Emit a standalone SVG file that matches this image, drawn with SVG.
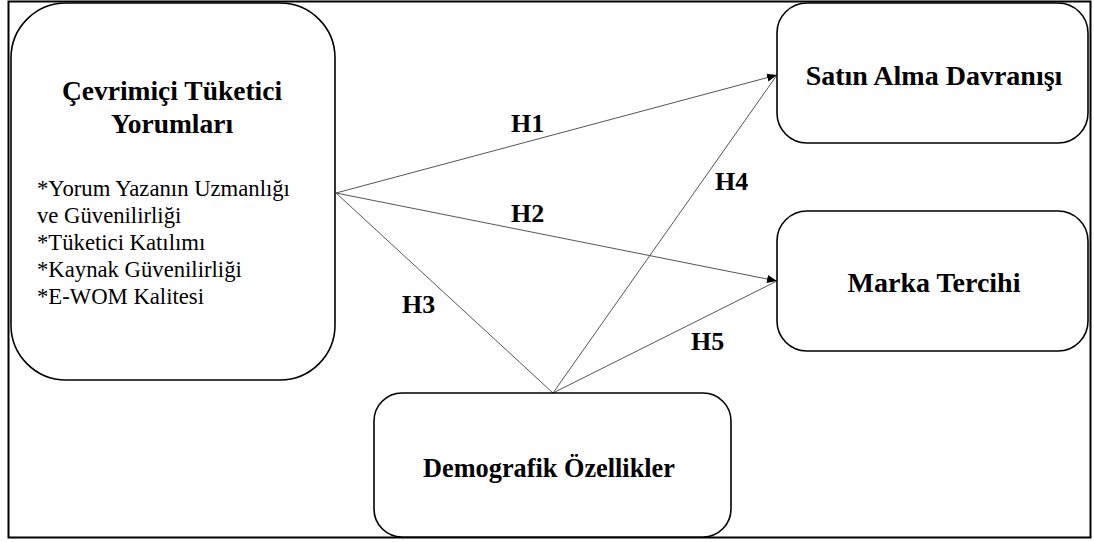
<svg xmlns="http://www.w3.org/2000/svg" width="1094" height="542" viewBox="0 0 1094 542" font-family="Liberation Serif, DejaVu Serif, serif">
<defs>
<style>
.box{fill:#fff;stroke:#000;stroke-width:1.6}
.title{font-weight:bold;fill:#000;text-anchor:middle}
.body{fill:#000;font-size:22.7px}
.lbl{font-weight:bold;fill:#000;font-size:26px}
.conn{stroke:#555;stroke-width:1;fill:none}
</style>
<marker id="arr" viewBox="0 0 10 10" refX="10" refY="5" markerWidth="10" markerHeight="10" markerUnits="userSpaceOnUse" orient="auto">
<path d="M0,1 L10,5 L0,9 z" fill="#000"/>
</marker>
</defs>
<rect x="0" y="0" width="1094" height="542" fill="#fff"/>
<rect x="8.5" y="1.5" width="1082" height="536" fill="none" stroke="#000" stroke-width="2"/>
<g id="connectors">
<line class="conn" x1="336" y1="193" x2="777" y2="75" marker-end="url(#arr)"/>
<line class="conn" x1="336" y1="193" x2="777" y2="281" marker-end="url(#arr)"/>
<line class="conn" x1="336" y1="193" x2="553" y2="393"/>
<line class="conn" x1="553" y1="393" x2="777" y2="75"/>
<line class="conn" x1="553" y1="393" x2="777" y2="281"/>
<text class="lbl" x="511" y="132" font-family="Liberation Serif">H1</text>
<text class="lbl" x="511" y="222" font-family="Liberation Serif">H2</text>
<text class="lbl" x="402" y="313" font-family="Liberation Serif">H3</text>
<text class="lbl" x="715" y="190" font-family="Liberation Serif">H4</text>
<text class="lbl" x="691" y="350" font-family="Liberation Serif">H5</text>
</g>
<g id="node-ctr">
<rect class="box" x="11" y="3" width="324" height="377" rx="55" ry="55"/>
<text class="title" x="172" y="100" font-size="27.5" font-family="Liberation Serif">Çevrimiçi Tüketici</text>
<text class="title" x="172" y="133" font-size="27.5" font-family="Liberation Serif">Yorumları</text>
<text class="body" x="37" y="196" font-family="Liberation Serif">*Yorum Yazanın Uzmanlığı</text>
<text class="body" x="37" y="223" font-family="Liberation Serif">ve Güvenilirliği</text>
<text class="body" x="37" y="250" font-family="Liberation Serif">*Tüketici Katılımı</text>
<text class="body" x="37" y="277" font-family="Liberation Serif">*Kaynak Güvenilirliği</text>
<text class="body" x="37" y="304" font-family="Liberation Serif">*E-WOM Kalitesi</text>
</g>
<g id="node-satin">
<rect class="box" x="777" y="3" width="311" height="140" rx="30" ry="30"/>
<text class="title" x="934" y="85" font-size="28" font-family="Liberation Serif">Satın Alma Davranışı</text>
</g>
<g id="node-marka">
<rect class="box" x="777" y="211" width="311" height="140" rx="30" ry="30"/>
<text class="title" x="934" y="292" font-size="28" font-family="Liberation Serif">Marka Tercihi</text>
</g>
<g id="node-demo">
<rect class="box" x="374" y="393" width="357" height="144" rx="28" ry="28"/>
<text class="title" x="549" y="477" font-size="26.3" font-family="Liberation Serif">Demografik Özellikler</text>
</g>
</svg>
